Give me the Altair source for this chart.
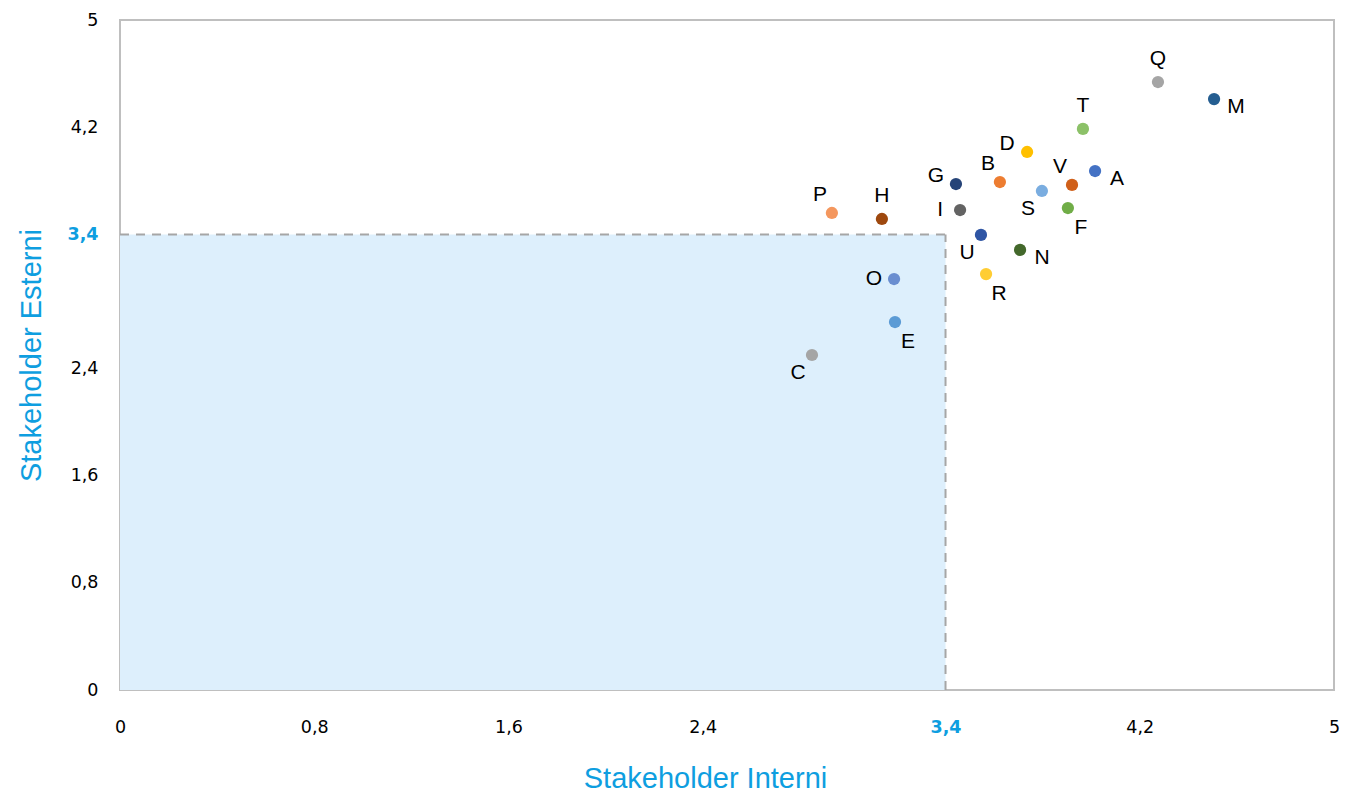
import altair as alt
import pandas as pd

names = ["Q", "M", "T", "D", "A", "V", "B", "S", "G", "F", "I", "P", "H", "U", "N", "R", "O", "E", "C"]
interni = [4.275, 4.506, 3.966, 3.736, 4.016, 3.921, 3.624, 3.797, 3.443, 3.904, 3.460, 2.932, 3.138, 3.546, 3.707, 3.567, 3.188, 3.192, 2.850]
esterni = [4.537, 4.410, 4.187, 4.015, 3.873, 3.769, 3.791, 3.724, 3.776, 3.597, 3.582, 3.560, 3.515, 3.396, 3.284, 3.104, 3.067, 2.746, 2.500]
colors = ["#A5A5A5", "#255E91", "#8CC168", "#FFC000", "#4472C4", "#D0601A", "#ED7D31", "#7AADE0",
          "#264478", "#70AD47", "#636363", "#F4975E", "#9E480E", "#2F55A4", "#43682B", "#FFCD33",
          "#6A8ED0", "#5B9BD5", "#A5A5A5"]
label_side = ["N", "E", "N", "WN", "E", "NW", "NW", "SW", "WN", "SE", "W", "NW", "N", "SW", "E", "SE", "W", "SE", "SW"]

threshold = 3.4
ticks = [0, 0.8, 1.6, 2.4, 3.4, 4.2, 5]

df = pd.DataFrame({"name": names, "x": interni, "y": esterni, "side": label_side})
thr = pd.DataFrame({"x0": [0.0], "y0": [0.0], "t": [threshold]})

BLUE = "#0E9EE0"
xs = alt.Scale(domain=[0, 5], nice=False, zero=False)
ys = alt.Scale(domain=[0, 5], nice=False, zero=False)

label_color = {"condition": {"test": "datum.value == 3.4", "value": BLUE}, "value": "#000000"}
label_weight = {"condition": {"test": "datum.value == 3.4", "value": "bold"}, "value": "normal"}

xaxis = alt.Axis(values=ticks, labelExpr="replace(toString(datum.value), '.', ',')", grid=False,
                 ticks=False, domain=False, labelFont="DejaVu Sans", labelFontSize=17.5, labelPadding=28,
                 labelFlush=False, labelColor=label_color, labelFontWeight=label_weight,
                 title="Stakeholder Interni", titleFont="Liberation Sans", titleFontSize=29,
                 titleFontWeight="normal", titleColor=BLUE, titlePadding=29, titleX=585)
yaxis = alt.Axis(values=ticks, labelExpr="replace(toString(datum.value), '.', ',')", grid=False,
                 ticks=False, domain=False, labelFont="DejaVu Sans", labelFontSize=17.5, labelPadding=22,
                 labelFlush=False, labelColor=label_color, labelFontWeight=label_weight,
                 title="Stakeholder Esterni", titleFont="Liberation Sans", titleFontSize=29,
                 titleFontWeight="normal", titleColor=BLUE, titlePadding=20)

base_thr = alt.Chart(thr)
rect = base_thr.mark_rect(color="#DDEFFC").encode(
    x=alt.X("x0:Q", scale=xs, axis=xaxis), x2="t:Q",
    y=alt.Y("y0:Q", scale=ys, axis=yaxis), y2="t:Q")
hline = base_thr.mark_rule(color="#A6A6A6", strokeDash=[9, 7], strokeWidth=2).encode(
    x=alt.X("x0:Q", scale=xs), x2="t:Q", y=alt.Y("t:Q", scale=ys))
vline = base_thr.mark_rule(color="#A6A6A6", strokeDash=[9, 7], strokeWidth=2).encode(
    x=alt.X("t:Q", scale=xs), y=alt.Y("y0:Q", scale=ys), y2="t:Q")

points = alt.Chart(df).mark_circle(size=150, opacity=1).encode(
    x=alt.X("x:Q", scale=xs),
    y=alt.Y("y:Q", scale=ys),
    color=alt.Color("name:N", scale=alt.Scale(domain=names, range=colors), legend=None))

offsets = {"N": (0, -23), "NW": (-12, -18), "WN": (-20, -8), "W": (-20, 0),
           "E": (22, 8), "SE": (13, 20), "SW": (-14, 18)}
texts = []
for side, (dx, dy) in offsets.items():
    texts.append(alt.Chart(df).transform_filter(alt.datum.side == side).mark_text(
        dx=dx, dy=dy, font="Liberation Sans", fontSize=21, color="#000000",
        align="center", baseline="middle").encode(
        x=alt.X("x:Q", scale=xs), y=alt.Y("y:Q", scale=ys), text="name:N"))

chart = alt.layer(rect, hline, vline, points, *texts).properties(
    width=1214, height=670,
    autosize=alt.AutoSizeParams(type="none"),
    padding={"left": 112, "top": 12, "right": 10, "bottom": 106},
).configure_view(stroke="#BFBFBF", strokeWidth=2)

chart.save("out.html", embed_options={"renderer": "svg", "actions": False})
